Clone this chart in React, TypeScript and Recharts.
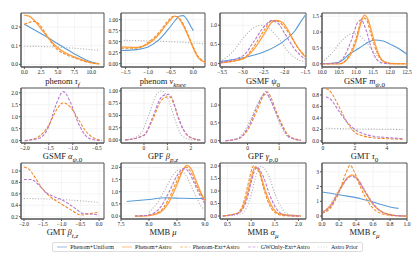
import React from 'react';
import { LineChart, Line, XAxis, YAxis, CartesianGrid, ReferenceArea } from 'recharts';

type Pt = [number, number];

// phenom tau_f
const tauFUniform: Pt[] = [[0, 0.215], [1, 0.195], [2, 0.175], [3, 0.155], [4, 0.133], [5, 0.11], [6, 0.088], [7, 0.066], [8, 0.046], [9, 0.028], [10, 0.013], [11, 0.004]];
const tauFAstro: Pt[] = [[0, 0.262], [0.7, 0.258], [1.5, 0.235], [2.5, 0.19], [3.5, 0.145], [4.5, 0.105], [5.5, 0.075], [6.5, 0.055], [7.5, 0.04], [8.5, 0.025], [9.5, 0.013], [10.5, 0.005], [11.2, 0.003]];
const tauFExt: Pt[] = [[0, 0.215], [0.8, 0.225], [1.5, 0.23], [2.2, 0.215], [3, 0.175], [3.8, 0.13], [4.5, 0.095], [5.5, 0.065], [6.5, 0.048], [7.5, 0.035], [8.5, 0.022], [9.5, 0.012], [10.5, 0.005], [11.2, 0.003]];
const tauFPrior: Pt[] = [[0, 0.097], [2, 0.096], [4, 0.094], [6, 0.09], [8, 0.085], [10, 0.079], [11.3, 0.075]];

// phenom nu_knee
const nuUniform: Pt[] = [[-1.6, 0.3], [-1.25, 0.32], [-1, 0.38], [-0.75, 0.55], [-0.5, 0.85], [-0.4, 0.98], [-0.3, 1.08], [-0.22, 1.09], [-0.15, 1.02], [-0.05, 0.84], [0, 0.75]];
const nuAstro: Pt[] = [[-1.6, 0.38], [-1.25, 0.37], [-1, 0.45], [-0.75, 0.68], [-0.6, 0.88], [-0.5, 1.0], [-0.42, 1.08], [-0.35, 1.06], [-0.25, 0.92], [-0.1, 0.6], [0, 0.35], [0.1, 0.15], [0.26, 0.03]];
const nuExt: Pt[] = [[-1.6, 0.35], [-1.25, 0.35], [-1, 0.48], [-0.75, 0.72], [-0.55, 0.98], [-0.45, 1.07], [-0.38, 1.07], [-0.25, 0.95], [-0.1, 0.62], [0, 0.38], [0.1, 0.18], [0.26, 0.04]];
const nuPrior: Pt[] = [[-1.6, 0.53], [-1, 0.52], [-0.5, 0.5], [0, 0.47], [0.26, 0.45]];

// GSMF psi_0
const psiUniform: Pt[] = [[-3.55, 0.05], [-3, 0.15], [-2.5, 0.3], [-2, 0.6], [-1.75, 0.85], [-1.6, 1.1], [-1.5, 1.26]];
const psiAstro: Pt[] = [[-3.55, 0.02], [-3, 0.12], [-2.75, 0.35], [-2.5, 0.75], [-2.3, 1.08], [-2.2, 1.13], [-2.05, 1.08], [-1.9, 0.85], [-1.75, 0.55], [-1.6, 0.3], [-1.5, 0.18]];
const psiExt: Pt[] = [[-3.55, 0.02], [-3, 0.13], [-2.75, 0.42], [-2.5, 0.85], [-2.3, 1.12], [-2.15, 1.1], [-2, 0.95], [-1.85, 0.72], [-1.7, 0.45], [-1.5, 0.2]];
const psiGw: Pt[] = [[-3.55, 0.03], [-3, 0.2], [-2.75, 0.55], [-2.5, 0.95], [-2.3, 1.12], [-2.15, 1.05], [-2, 0.8], [-1.8, 0.45], [-1.6, 0.2], [-1.5, 0.12]];
const psiPrior: Pt[] = [[-3.55, 0.05], [-3.25, 0.3], [-3, 0.65], [-2.75, 0.93], [-2.55, 1.0], [-2.35, 0.9], [-2.1, 0.6], [-1.9, 0.3], [-1.7, 0.12], [-1.5, 0.05]];

// GSMF m_psi,0
const mPsiUniform: Pt[] = [[10, 0], [10.5, 0.05], [10.8, 0.3], [11.1, 0.5], [11.4, 0.7], [11.55, 0.75], [11.8, 0.72], [12, 0.62], [12.3, 0.45], [12.5, 0.3]];
const mPsiAstro: Pt[] = [[10, 0], [10.5, 0], [10.75, 0.15], [11, 0.7], [11.15, 1.3], [11.25, 1.53], [11.35, 1.4], [11.5, 0.85], [11.65, 0.35], [11.8, 0.08], [12, 0.01], [12.5, 0]];
const mPsiExt: Pt[] = [[10, 0], [10.5, 0], [10.75, 0.18], [11, 0.8], [11.2, 1.45], [11.3, 1.4], [11.45, 0.9], [11.6, 0.4], [11.8, 0.08], [12.1, 0], [12.5, 0]];
const mPsiGw: Pt[] = [[10, 0], [10.4, 0.02], [10.6, 0.15], [10.85, 0.7], [11.05, 1.3], [11.15, 1.38], [11.3, 1.05], [11.45, 0.5], [11.6, 0.15], [11.8, 0.02], [12, 0]];
const mPsiPrior: Pt[] = [[10, 0.05], [10.3, 0.35], [10.6, 0.75], [10.9, 0.95], [11.2, 0.8], [11.5, 0.4], [11.8, 0.1], [12, 0.03]];

// GSMF alpha_psi,0
const aPsiExt: Pt[] = [[-2, 0], [-1.75, 0.12], [-1.5, 0.65], [-1.35, 1.25], [-1.2, 1.58], [-1.05, 1.4], [-0.9, 0.95], [-0.75, 0.45], [-0.6, 0.15], [-0.4, 0.02]];
const aPsiGw: Pt[] = [[-2, 0], [-1.7, 0.1], [-1.5, 0.6], [-1.35, 1.5], [-1.2, 2.05], [-1.05, 1.6], [-0.9, 0.8], [-0.75, 0.25], [-0.6, 0.05], [-0.4, 0]];

// GPF beta_p,z
const betaPExt: Pt[] = [[-0.8, 0], [0, 0.1], [0.4, 0.45], [0.7, 0.78], [0.9, 0.87], [1.1, 0.88], [1.3, 0.7], [1.5, 0.4], [1.8, 0.12], [2.1, 0.03], [2.4, 0]];
const betaPGw: Pt[] = [[-0.8, 0], [0, 0.1], [0.4, 0.5], [0.7, 0.85], [0.9, 0.92], [1.05, 0.93], [1.2, 0.85], [1.4, 0.55], [1.7, 0.2], [2.1, 0.03], [2.4, 0]];
const betaPPrior: Pt[] = [[-0.8, 0], [-0.2, 0.1], [0.2, 0.5], [0.5, 0.9], [0.75, 1.0], [0.9, 0.95], [1.1, 0.75], [1.3, 0.45], [1.6, 0.1], [2, 0.01], [2.4, 0]];

// GPF gamma_p,0
const gammaPExt: Pt[] = [[-0.7, 0], [-0.3, 0.05], [0, 0.3], [0.3, 0.85], [0.5, 1.25], [0.62, 1.37], [0.75, 1.2], [0.9, 0.85], [1.1, 0.45], [1.3, 0.15], [1.7, 0.01]];
const gammaPGw: Pt[] = [[-0.7, 0], [-0.3, 0.06], [0, 0.35], [0.3, 0.95], [0.5, 1.3], [0.57, 1.38], [0.7, 1.2], [0.9, 0.8], [1.1, 0.4], [1.3, 0.12], [1.7, 0.01]];
const gammaPPrior: Pt[] = [[-0.7, 0], [-0.3, 0.08], [0, 0.42], [0.3, 1.0], [0.5, 1.28], [0.6, 1.3], [0.75, 1.1], [0.9, 0.75], [1.1, 0.35], [1.3, 0.1], [1.7, 0]];

// GMT tau_0
const tau0Ext: Pt[] = [[0.2, 0.91], [0.5, 0.85], [1, 0.6], [1.5, 0.33], [2, 0.15], [2.5, 0.09], [3, 0.06], [4, 0.04], [5, 0.03]];
const tau0Gw: Pt[] = [[0.2, 0.77], [0.5, 0.72], [1, 0.52], [1.5, 0.33], [2, 0.2], [2.5, 0.13], [3, 0.09], [4, 0.06], [5, 0.04]];
const tau0Prior: Pt[] = [[0.2, 0.22], [2, 0.21], [5, 0.2]];

// GMT beta_t,z
const betaTExt: Pt[] = [[-2, 1.07], [-1.85, 1.02], [-1.7, 0.88], [-1.5, 0.68], [-1.3, 0.55], [-1, 0.42], [-0.75, 0.32], [-0.55, 0.24], [-0.45, 0.23], [-0.3, 0.25], [-0.1, 0.27], [0, 0.28]];
const betaTGw: Pt[] = [[-2, 0.85], [-1.8, 0.85], [-1.6, 0.75], [-1.4, 0.62], [-1.2, 0.55], [-1, 0.5], [-0.8, 0.42], [-0.6, 0.33], [-0.45, 0.26], [-0.3, 0.25], [0, 0.23]];
const betaTPrior: Pt[] = [[-2, 0.52], [-1, 0.5], [0, 0.45]];

// MMB mu
const muUniform: Pt[] = [[7.6, 0.6], [8, 0.68], [8.3, 0.75], [8.6, 0.73], [9, 0.72]];
const muAstro: Pt[] = [[7.75, 0], [8, 0.02], [8.2, 0.15], [8.35, 0.55], [8.5, 1.3], [8.6, 1.85], [8.67, 2.08], [8.75, 1.95], [8.85, 1.4], [8.95, 0.85], [9, 0.65]];
const muExt: Pt[] = [[7.75, 0], [8, 0.03], [8.2, 0.2], [8.35, 0.7], [8.5, 1.45], [8.6, 1.9], [8.67, 2.0], [8.75, 1.8], [8.85, 1.25], [9, 0.6]];
const muGw: Pt[] = [[7.75, 0], [8, 0.05], [8.2, 0.35], [8.35, 0.95], [8.5, 1.65], [8.62, 1.95], [8.7, 1.85], [8.8, 1.4], [8.9, 0.9], [9, 0.5]];
const muPrior: Pt[] = [[8, 0.15], [8.15, 0.55], [8.3, 1.15], [8.45, 1.75], [8.55, 1.9], [8.65, 1.7], [8.8, 1.0], [8.95, 0.35], [9, 0.25]];

// MMB alpha_mu
const aMuAstro: Pt[] = [[0.4, 0], [0.75, 0.15], [0.9, 0.75], [1, 1.5], [1.08, 1.95], [1.18, 1.75], [1.3, 1.0], [1.45, 0.35], [1.6, 0.08], [2.05, 0]];
const aMuExt: Pt[] = [[0.4, 0], [0.7, 0.1], [0.85, 0.6], [0.95, 1.4], [1.05, 2.0], [1.15, 1.85], [1.25, 1.2], [1.35, 0.6], [1.5, 0.15], [1.7, 0.01], [2.05, 0]];
const aMuGw: Pt[] = [[0.4, 0], [0.7, 0.08], [0.9, 0.6], [1, 1.35], [1.12, 1.95], [1.25, 1.6], [1.4, 0.8], [1.55, 0.25], [1.75, 0.02], [2.05, 0]];
const aMuPrior: Pt[] = [[0.4, 0], [0.8, 0.1], [1, 0.85], [1.1, 1.6], [1.2, 1.98], [1.35, 1.7], [1.5, 0.9], [1.65, 0.3], [1.8, 0.05], [2.05, 0]];

// MMB epsilon_mu
const eMuUniform: Pt[] = [[0, 1.63], [0.1, 1.55], [0.2, 1.45], [0.3, 1.35], [0.4, 1.25], [0.5, 1.1], [0.6, 0.95], [0.7, 0.78], [0.8, 0.62], [0.9, 0.52]];
const eMuAstro: Pt[] = [[0, 0.25], [0.1, 0.7], [0.2, 1.7], [0.3, 2.6], [0.35, 2.8], [0.42, 2.5], [0.5, 1.7], [0.6, 0.8], [0.7, 0.3], [0.85, 0.05], [1, 0]];
const eMuExt: Pt[] = [[0, 0.2], [0.1, 0.55], [0.2, 1.6], [0.28, 2.9], [0.33, 3.45], [0.38, 3.0], [0.45, 2.0], [0.55, 0.9], [0.65, 0.3], [0.8, 0.05], [1, 0]];
const eMuGw: Pt[] = [[0, 0.22], [0.1, 0.65], [0.2, 1.65], [0.3, 2.55], [0.35, 2.7], [0.42, 2.45], [0.5, 1.75], [0.6, 0.85], [0.7, 0.3], [0.85, 0.04], [1, 0]];
const eMuPrior: Pt[] = [[0, 0.2], [0.1, 0.8], [0.2, 1.8], [0.3, 2.6], [0.35, 2.75], [0.45, 2.3], [0.55, 1.3], [0.65, 0.5], [0.8, 0.1], [1, 0]];

// tick labels
const tauFXTicks = [0, 2.5, 5, 7.5, 10];
const tauFYTicks = [0, 0.1, 0.2];
const nuXTicks = [-1.5, -1, -0.5, 0];
const nuYTicks = [0, 0.25, 0.5, 0.75, 1];
const psiXTicks = [-3.5, -3, -2.5, -2, -1.5];
const psiYTicks = [0, 0.5, 1];
const mPsiXTicks = [10, 10.5, 11, 11.5, 12, 12.5];
const mPsiYTicks = [0, 0.5, 1, 1.5];
const aPsiXTicks = [-2, -1.5, -1, -0.5];
const aPsiYTicks = [0, 0.5, 1, 1.5, 2];
const betaPXTicks = [0, 1, 2];
const betaPYTicks = [0, 0.25, 0.5, 0.75, 1];
const gammaPXTicks = [0, 1];
const gammaPYTicks = [0, 0.5, 1];
const tau0XTicks = [0, 2, 4];
const tau0YTicks = [0, 0.2, 0.4, 0.6, 0.8];
const betaTXTicks = [-2, -1.5, -1, -0.5, 0];
const betaTYTicks = [0.2, 0.4, 0.6, 0.8, 1];
const muXTicks = [7.5, 8, 8.5, 9];
const muYTicks = [0, 0.5, 1, 1.5, 2];
const aMuXTicks = [0.5, 1, 1.5, 2];
const aMuYTicks = [0, 0.5, 1, 1.5, 2];
const eMuXTicks = [0, 0.2, 0.4, 0.6, 0.8, 1];
const eMuYTicks = [0, 1, 2, 3];

const legendNames = ['Phenom+Uniform', 'Phenom+Astro', 'Phenom-Ext+Astro', 'GWOnly-Ext+Astro', 'Astro Prior'];

const STYLES: Record<string, { color: string; dash?: string; width: number }> = {
  prior: { color: '#ababab', dash: '1 1.8', width: 1.1 },
  uniform: { color: '#5b9bd5', width: 1.1 },
  astro: { color: '#ff9f40', width: 1.3 },
  ext: { color: '#f28a2a', dash: '3 1.5', width: 1.1 },
  gw: { color: '#b57ad0', dash: '3 1.5', width: 1.1 },
};
const legendKeys = ['uniform', 'astro', 'ext', 'gw', 'prior'];

const COLS: [number, number][] = [[21, 104], [121, 205], [220, 306], [322, 407]];
const ROWS: [number, number, number][] = [[13, 67, 81], [88, 143, 156], [163, 219, 232]];

const SERIF = '"Liberation Serif", "DejaVu Serif", serif';

interface Panel {
  label: React.ReactNode;
  xDomain: [number, number];
  yDomain: [number, number];
  xTicks: number[];
  yTicks: number[];
  xDec: number;
  yDec: number;
  series: Record<string, Pt[]>;
}

const panels: Panel[] = [
  { label: <>phenom <i>τ</i><sub><i>f</i></sub></>, xDomain: [-0.5, 11.9], yDomain: [-0.014, 0.275], xTicks: tauFXTicks, yTicks: tauFYTicks, xDec: 1, yDec: 1, series: { prior: tauFPrior, uniform: tauFUniform, astro: tauFAstro, ext: tauFExt } },
  { label: <>phenom <i>ν</i><sub><i>knee</i></sub></>, xDomain: [-1.6, 0.26], yDomain: [-0.075, 1.15], xTicks: nuXTicks, yTicks: nuYTicks, xDec: 1, yDec: 2, series: { prior: nuPrior, uniform: nuUniform, astro: nuAstro, ext: nuExt } },
  { label: <>GSMF <i>ψ</i><sub>0</sub></>, xDomain: [-3.55, -1.48], yDomain: [-0.09, 1.32], xTicks: psiXTicks, yTicks: psiYTicks, xDec: 1, yDec: 1, series: { prior: psiPrior, uniform: psiUniform, astro: psiAstro, ext: psiExt, gw: psiGw } },
  { label: <>GSMF <i>m</i><sub><i>ψ</i>,0</sub></>, xDomain: [10, 12.5], yDomain: [-0.1, 1.6], xTicks: mPsiXTicks, yTicks: mPsiYTicks, xDec: 1, yDec: 1, series: { prior: mPsiPrior, uniform: mPsiUniform, astro: mPsiAstro, ext: mPsiExt, gw: mPsiGw } },
  { label: <>GSMF <i>α</i><sub><i>ψ</i>,0</sub></>, xDomain: [-2.08, -0.35], yDomain: [-0.1, 2.2], xTicks: aPsiXTicks, yTicks: aPsiYTicks, xDec: 1, yDec: 1, series: { ext: aPsiExt, gw: aPsiGw } },
  { label: <>GPF <i>β</i><sub><i>p,z</i></sub></>, xDomain: [-0.98, 2.6], yDomain: [-0.06, 1.06], xTicks: betaPXTicks, yTicks: betaPYTicks, xDec: 0, yDec: 2, series: { prior: betaPPrior, ext: betaPExt, gw: betaPGw } },
  { label: <>GPF <i>γ</i><sub><i>p</i>,0</sub></>, xDomain: [-0.88, 1.86], yDomain: [-0.065, 1.48], xTicks: gammaPXTicks, yTicks: gammaPYTicks, xDec: 0, yDec: 1, series: { prior: gammaPPrior, ext: gammaPExt, gw: gammaPGw } },
  { label: <>GMT <i>τ</i><sub>0</sub></>, xDomain: [-0.05, 5.25], yDomain: [-0.035, 0.92], xTicks: tau0XTicks, yTicks: tau0YTicks, xDec: 0, yDec: 1, series: { prior: tau0Prior, ext: tau0Ext, gw: tau0Gw } },
  { label: <>GMT <i>β</i><sub><i>t,z</i></sub></>, xDomain: [-2.08, 0.13], yDomain: [0.16, 1.14], xTicks: betaTXTicks, yTicks: betaTYTicks, xDec: 1, yDec: 1, series: { prior: betaTPrior, ext: betaTExt, gw: betaTGw } },
  { label: <>MMB <i>μ</i></>, xDomain: [7.5, 9.0], yDomain: [-0.12, 2.18], xTicks: muXTicks, yTicks: muYTicks, xDec: 1, yDec: 1, series: { prior: muPrior, uniform: muUniform, astro: muAstro, ext: muExt, gw: muGw } },
  { label: <>MMB <i>α</i><sub><i>μ</i></sub></>, xDomain: [0.34, 2.16], yDomain: [-0.12, 2.12], xTicks: aMuXTicks, yTicks: aMuYTicks, xDec: 1, yDec: 1, series: { prior: aMuPrior, astro: aMuAstro, ext: aMuExt, gw: aMuGw } },
  { label: <>MMB <i>ϵ</i><sub><i>μ</i></sub></>, xDomain: [0, 1.0], yDomain: [-0.2, 3.6], xTicks: eMuXTicks, yTicks: eMuYTicks, xDec: 1, yDec: 0, series: { prior: eMuPrior, uniform: eMuUniform, astro: eMuAstro, ext: eMuExt, gw: eMuGw } },
];

const YW = 22;
const XH = 12;
const RM = 8;
const fmt = (dec: number) => (v: number) => v.toFixed(dec).replace('-', '\u2212');
const tickStyle = { fontSize: 5.5, fill: '#222', fontFamily: SERIF };

const PanelChart: React.FC<{ p: Panel; idx: number }> = ({ p, idx }) => {
  const [l, r] = COLS[idx % 4];
  const [t, b, ly] = ROWS[Math.floor(idx / 4)];
  const w = r - l;
  const h = b - t;
  const order = ['prior', 'uniform', 'astro', 'ext', 'gw'].filter((k) => p.series[k]);
  return (
    <>
      <div style={{ position: 'absolute', left: l - YW, top: t - 1 }}>
        <LineChart width={YW + w + RM} height={h + XH + 1} margin={{ top: 1, right: RM, left: 0, bottom: 0 }}>
          <CartesianGrid stroke="#ececec" strokeWidth={0.6} />
          <XAxis
            type="number"
            dataKey="x"
            domain={p.xDomain}
            allowDataOverflow
            ticks={p.xTicks}
            interval={0}
            tickFormatter={fmt(p.xDec)}
            tick={tickStyle}
            tickSize={2}
            tickMargin={1}
            height={XH}
            stroke="#555"
          />
          <YAxis
            type="number"
            dataKey="y"
            domain={p.yDomain}
            allowDataOverflow
            ticks={p.yTicks}
            interval={0}
            tickFormatter={fmt(p.yDec)}
            tick={tickStyle}
            tickSize={2}
            tickMargin={1}
            width={YW}
            stroke="#555"
          />
          <ReferenceArea
            x1={p.xDomain[0]}
            x2={p.xDomain[1]}
            y1={p.yDomain[0]}
            y2={p.yDomain[1]}
            fill="none"
            stroke="#555"
            strokeWidth={1}
            ifOverflow="visible"
          />
          {order.map((k) => (
            <Line
              key={k}
              data={p.series[k].map(([x, y]) => ({ x, y }))}
              dataKey="y"
              type="monotone"
              stroke={STYLES[k].color}
              strokeWidth={STYLES[k].width}
              strokeDasharray={STYLES[k].dash}
              dot={false}
              activeDot={false}
              isAnimationActive={false}
            />
          ))}
        </LineChart>
      </div>
      <div
        style={{
          position: 'absolute',
          left: l - 10,
          width: w + 20,
          top: ly - 5,
          textAlign: 'center',
          fontFamily: SERIF,
          fontSize: 8.5,
          lineHeight: '10px',
          color: '#222',
          whiteSpace: 'nowrap',
        }}
      >
        {p.label}
      </div>
    </>
  );
};

const LegendBox: React.FC = () => (
  <div
    style={{
      position: 'absolute',
      left: 52,
      top: 242,
      width: 311,
      height: 10,
      border: '1px solid #dcdcdc',
      borderRadius: 2,
      boxSizing: 'border-box',
      display: 'flex',
      alignItems: 'center',
      justifyContent: 'space-around',
      fontFamily: SERIF,
      fontSize: 6,
      color: '#222',
    }}
  >
    {legendKeys.map((k, i) => (
      <span key={k} style={{ display: 'flex', alignItems: 'center', whiteSpace: 'nowrap' }}>
        <svg width={10} height={4} style={{ marginRight: 3 }}>
          <line x1={0} y1={2} x2={10} y2={2} stroke={STYLES[k].color} strokeOpacity={0.55} strokeWidth={1.2} strokeDasharray={STYLES[k].dash} />
        </svg>
        {legendNames[i]}
      </span>
    ))}
  </div>
);

export default function App() {
  return (
    <div style={{ position: 'absolute', left: 0, top: 0, width: 415, height: 257, background: '#fff', overflow: 'hidden' }}>
      {panels.map((p, i) => (
        <PanelChart key={i} p={p} idx={i} />
      ))}
      <LegendBox />
    </div>
  );
}
